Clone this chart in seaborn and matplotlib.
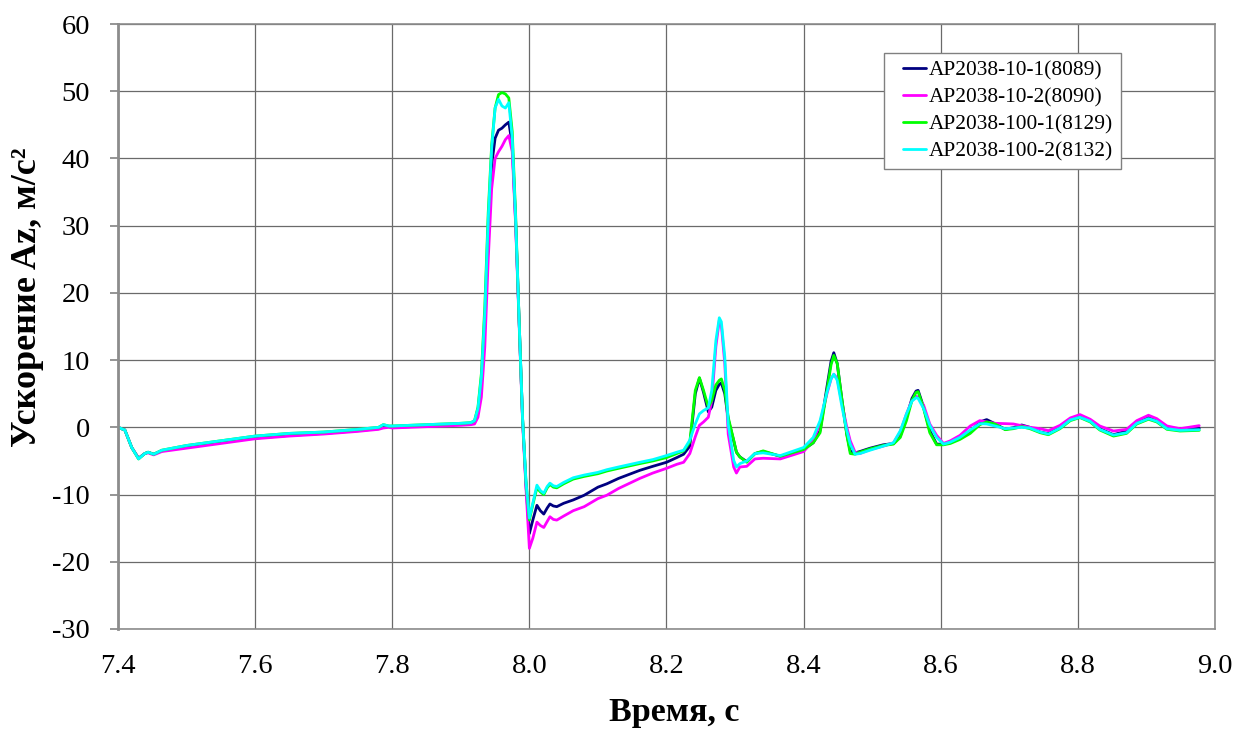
import numpy as np
import pandas as pd
import matplotlib
matplotlib.use("Agg")
import matplotlib.pyplot as plt
import seaborn as sns

# Time axis, s
time_s = [
    7.400, 7.410, 7.420, 7.430, 7.439, 7.444, 7.452, 7.464, 7.500, 7.550,
    7.600, 7.650, 7.700, 7.750, 7.780, 7.787, 7.795, 7.800, 7.850, 7.900,
    7.915, 7.920, 7.925, 7.930, 7.935, 7.940, 7.945, 7.950, 7.955, 7.960,
    7.965, 7.970, 7.975, 7.980, 7.985, 7.990, 7.995, 8.000, 8.005, 8.011,
    8.016, 8.021, 8.026, 8.030, 8.035, 8.040, 8.050, 8.064, 8.080, 8.100,
    8.113, 8.130, 8.161, 8.180, 8.200, 8.215,
    8.225, 8.234, 8.242, 8.248, 8.254, 8.261, 8.266, 8.272, 8.277, 8.280,
    8.285, 8.290, 8.298, 8.302, 8.307, 8.317, 8.329, 8.341, 8.366, 8.400,
    8.414, 8.424, 8.434, 8.440, 8.444, 8.449, 8.456, 8.463, 8.468, 8.475,
    8.482, 8.497, 8.516, 8.531, 8.541, 8.550, 8.558, 8.564, 8.567, 8.575,
    8.584, 8.594,
    8.604, 8.614, 8.628, 8.643, 8.657, 8.667, 8.679, 8.694, 8.706, 8.718,
    8.730, 8.745, 8.757, 8.774, 8.789, 8.803, 8.818, 8.832, 8.852, 8.871,
    8.886, 8.903, 8.915, 8.930, 8.949, 8.977,
]

# Vertical acceleration Az, m/s^2, one list per sensor
az_10_1 = [
    0.0, -0.4, -3.0, -4.6, -3.9, -3.7, -4.0, -3.5, -2.9, -2.2,
    -1.6, -1.2, -0.9, -0.5, -0.2, 0.1, 0.1, 0.0, 0.2, 0.5,
    0.6, 0.8, 2.2, 6.5, 15.0, 29.0, 39.0, 43.0, 44.2, 44.5,
    45.0, 45.4, 42.0, 30.5, 16.0, 1.5, -8.5, -15.8, -13.8, -11.6,
    -12.4, -12.9, -12.0, -11.4, -11.7, -11.8, -11.3, -10.8, -10.1, -8.9,
    -8.4, -7.6, -6.4, -5.8, -5.2, -4.5,
    -4.0, -2.8, 5.0, 7.3, 5.2, 2.3, 3.0, 5.5, 6.4, 6.6,
    5.0, 1.2, -2.0, -3.7, -4.4, -5.1, -3.9, -3.6, -4.3, -3.3,
    -2.3, -0.5, 6.0, 9.8, 11.1, 9.5, 4.0, -1.0, -3.5, -3.8,
    -3.6, -3.1, -2.6, -2.4, -1.3, 1.5, 4.3, 5.4, 5.5, 3.0,
    -0.5, -2.5,
    -2.5, -2.2, -1.5, -0.7, 0.8, 1.15, 0.55, -0.3, -0.05, 0.35,
    0.0, -0.7, -0.95, 0.05, 1.15, 1.65, 1.05, -0.2, -1.1, -0.55,
    0.8, 1.55, 1.05, -0.05, -0.35, -0.15,
]

az_10_2 = [
    0.0, -0.4, -3.0, -4.6, -3.9, -3.8, -4.1, -3.6, -3.1, -2.4,
    -1.7, -1.3, -1.0, -0.6, -0.3, -0.1, 0.0, -0.1, 0.1, 0.3,
    0.4, 0.5, 1.5, 4.5, 12.0, 25.0, 35.5, 40.0, 41.0, 41.8,
    42.8, 43.4, 41.0, 30.0, 15.5, 1.0, -9.0, -18.0, -16.5, -14.1,
    -14.6, -14.9, -14.0, -13.3, -13.7, -13.8, -13.2, -12.4, -11.8, -10.6,
    -10.1, -9.1, -7.6, -6.8, -6.1, -5.5,
    -5.2, -3.9, -1.4, 0.3, 0.8, 1.5, 4.0, 12.0, 15.9, 15.2,
    9.5, -1.0, -5.9, -6.8, -5.9, -5.8, -4.7, -4.6, -4.7, -3.6,
    -2.0, 0.6, 5.0, 7.2, 7.9, 7.3, 3.5, 0.0, -2.0, -3.7,
    -3.9, -3.3, -2.8, -2.3, -0.7, 2.0, 4.0, 4.6, 4.5, 3.3,
    0.5, -1.2,
    -2.4, -2.0, -1.2, 0.2, 1.0, 0.8, 0.6, 0.55, 0.5, 0.25,
    0.0, -0.2, -0.5, 0.3, 1.4, 1.9, 1.2, 0.2, -0.55, -0.3,
    1.0, 1.8, 1.3, 0.2, -0.2, 0.25,
]

az_100_1 = [
    0.0, -0.4, -3.0, -4.7, -3.9, -3.7, -4.0, -3.4, -2.7, -2.0,
    -1.3, -0.9, -0.7, -0.3, 0.0, 0.4, 0.2, 0.2, 0.4, 0.6,
    0.7, 1.0, 3.0, 8.0, 18.0, 32.0, 42.0, 47.5, 49.5, 49.8,
    49.6, 49.0, 44.0, 31.5, 16.0, 1.5, -8.0, -13.8, -11.5, -9.0,
    -9.6, -10.0, -9.0, -8.5, -8.9, -9.0, -8.4, -7.7, -7.3, -6.9,
    -6.5, -6.1, -5.4, -5.0, -4.5, -3.9,
    -3.5, -2.2, 5.5, 7.4, 5.5, 3.0, 4.0, 6.3, 7.0, 7.2,
    5.5, 1.5, -1.9, -3.7, -4.4, -5.2, -3.9, -3.5, -4.3, -3.3,
    -2.3, -0.8, 5.5, 9.3, 10.7, 9.5, 4.0, -1.2, -3.9, -4.0,
    -3.7, -3.2, -2.7, -2.5, -1.5, 1.0, 4.0, 5.2, 5.3, 2.8,
    -0.8, -2.6,
    -2.6, -2.4, -1.8, -0.9, 0.4, 0.8, 0.5, -0.35, -0.2, 0.1,
    -0.2, -0.8, -1.1, -0.2, 1.0, 1.45, 0.8, -0.4, -1.3, -0.9,
    0.5, 1.2, 0.8, -0.3, -0.55, -0.45,
]

az_100_2 = [
    0.0, -0.4, -3.0, -4.7, -3.9, -3.7, -4.0, -3.4, -2.7, -2.0,
    -1.3, -0.9, -0.7, -0.3, 0.0, 0.4, 0.2, 0.2, 0.4, 0.6,
    0.7, 1.0, 2.8, 7.5, 17.0, 31.0, 41.5, 47.5, 48.8, 47.8,
    47.5, 48.3, 43.0, 31.0, 16.0, 1.5, -8.0, -13.5, -11.3, -8.6,
    -9.4, -9.8, -8.8, -8.3, -8.7, -8.8, -8.2, -7.5, -7.1, -6.7,
    -6.3, -5.9, -5.2, -4.8, -4.2, -3.7,
    -3.4, -1.9, 0.5, 2.0, 2.5, 2.9, 5.5, 12.9, 16.3, 15.7,
    10.5, 0.5, -4.9, -5.9, -5.4, -5.0, -3.9, -3.8, -4.2, -3.0,
    -1.5, 1.0, 5.2, 7.2, 7.9, 7.0, 3.0, -0.5, -2.5, -4.0,
    -3.9, -3.4, -2.8, -2.3, -0.5, 2.0, 3.9, 4.4, 4.3, 2.8,
    0.3, -1.5,
    -2.5, -2.2, -1.5, -0.4, 0.55, 0.5, 0.2, -0.2, -0.1, 0.0,
    -0.1, -0.7, -1.0, -0.1, 1.1, 1.5, 0.9, -0.3, -1.15, -0.8,
    0.6, 1.3, 0.9, -0.2, -0.45, -0.35,
]

series_names = [
    "AP2038-10-1(8089)",
    "AP2038-10-2(8090)",
    "AP2038-100-1(8129)",
    "AP2038-100-2(8132)",
]
series_colors = ["#000080", "#ff00ff", "#00ff00", "#00ffff"]

x_ticks = [7.4, 7.6, 7.8, 8.0, 8.2, 8.4, 8.6, 8.8, 9.0]
x_tick_labels = ["7.4", "7.6", "7.8", "8.0", "8.2", "8.4", "8.6", "8.8", "9.0"]
y_ticks = [-30, -20, -10, 0, 10, 20, 30, 40, 50, 60]

x_title = "Время, с"
y_title = "Ускорение Az, м/с²"

sns.set_theme(style="white")
plt.rcParams["font.family"] = ["Liberation Serif", "DejaVu Serif"]
plt.rcParams["axes.unicode_minus"] = False

frames = []
for name, values in zip(series_names, [az_10_1, az_10_2, az_100_1, az_100_2]):
    frames.append(pd.DataFrame({"t": time_s, "az": values, "series": name}))
df = pd.concat(frames, ignore_index=True)

W, H = 1238, 731
fig = plt.figure(figsize=(W / 100, H / 100), dpi=100)
fig.patch.set_facecolor("white")
ax = fig.add_axes([118 / W, 1 - 629 / H, (1215 - 118) / W, (629 - 24) / H])

sns.lineplot(
    data=df, x="t", y="az", hue="series", hue_order=series_names,
    palette=dict(zip(series_names, series_colors)),
    sort=False, estimator=None, linewidth=2.0, ax=ax,
)

ax.set_xlim(7.4, 9.0)
ax.set_ylim(-30, 60)
ax.set_xticks(x_ticks)
ax.set_xticklabels(x_tick_labels)
ax.set_yticks(y_ticks)
ax.set_xlabel("")
ax.set_ylabel("")

ax.set_axisbelow(True)
ax.grid(True, color="#6a6a6a", linewidth=0.9)
for side in ["top", "right", "bottom"]:
    ax.spines[side].set_color("#8c8c8c")
    ax.spines[side].set_linewidth(1.2)
ax.spines["left"].set_color("#8c8c8c")
ax.spines["left"].set_linewidth(2.0)

ax.tick_params(axis="y", left=True, direction="out", length=6, width=1.3,
               color="#8c8c8c", pad=14, labelsize=20.5, labelcolor="black")
ax.tick_params(axis="x", bottom=False, length=0, pad=18, labelsize=20.5,
               labelcolor="black")

fig.text(674 / W, 1 - 712 / H, x_title, ha="center", va="center",
         fontsize=24.5, fontweight="bold", color="black")
fig.text(28 / W, 1 - 297 / H, y_title, ha="center", va="center",
         rotation=90, fontsize=26, fontweight="bold", color="black")

legend_fs = 15.4
handle_len = 1.6
handles, labels = ax.get_legend_handles_labels()
leg = ax.legend(
    handles, labels, loc="upper left",
    bbox_to_anchor=(884 / W, 1 - 53 / H), bbox_transform=fig.transFigure,
    frameon=True, fancybox=False, shadow=False, framealpha=1,
    edgecolor="#808080", fontsize=legend_fs, handlelength=handle_len,
    handletextpad=0.15, borderpad=0.35, labelspacing=0.33, borderaxespad=0,
)
leg.get_frame().set_linewidth(1.0)
for line in leg.get_lines():
    line.set_linewidth(2.0)
    # short sample line, inset from the frame's left edge
    y0 = np.asarray(line.get_ydata())[0]
    line.set_data([0.33 * handle_len * legend_fs, handle_len * legend_fs], [y0, y0])
for txt in leg.get_texts():
    txt.set_color("black")

fig.savefig("out.png", dpi=100, facecolor="white")
